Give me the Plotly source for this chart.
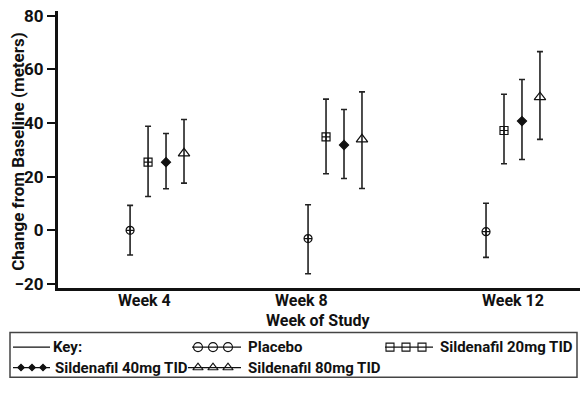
import plotly.graph_objects as go

W, H = 584, 393
FONT = "Roboto, Liberation Sans, Arial, sans-serif"

# ---- data ----
weeks = ["Week 4", "Week 8", "Week 12"]
series_names = ["Placebo", "Sildenafil 20mg TID", "Sildenafil 40mg TID", "Sildenafil 80mg TID"]
placebo_mean = [0.0, -3.1, -0.5]
placebo_upper = [9.3, 9.5, 10.1]
placebo_lower = [-9.2, -16.2, -10.1]
s20_mean = [25.4, 34.8, 37.2]
s20_upper = [38.8, 48.9, 50.7]
s20_lower = [12.6, 21.1, 24.8]
s40_mean = [25.4, 31.8, 40.7]
s40_upper = [36.1, 45.0, 56.2]
s40_lower = [15.5, 19.3, 26.4]
s80_mean = [28.7, 33.9, 49.6]
s80_upper = [41.3, 51.6, 66.6]
s80_lower = [17.6, 15.6, 33.9]
y_ticks = [-20, 0, 20, 40, 60, 80]

# ---- layout helpers ----
def px(x):
    return x / W

def py(y):
    return (H - y) / H

group_pos = [0, 1, 2]
offsets = [-0.101, 0.0, 0.101, 0.202]
tick_pos = [-0.02, 0.86, 2.05]

means = [placebo_mean, s20_mean, s40_mean, s80_mean]
uppers = [placebo_upper, s20_upper, s40_upper, s80_upper]
lowers = [placebo_lower, s20_lower, s40_lower, s80_lower]
symbols = ["circle-cross-open", "square-cross-open", "diamond", "triangle-up-open"]
sizes = [8, 8, 7, 10]

fig = go.Figure()
for i in range(4):
    xs = [g + offsets[i] for g in group_pos]
    m = means[i]
    fig.add_trace(go.Scatter(
        x=xs, y=m, mode="markers", name=series_names[i], showlegend=False,
        marker=dict(symbol=symbols[i], size=sizes[i], color="#111",
                    line=dict(width=1.2, color="#111")),
        error_y=dict(type="data", symmetric=False,
                     array=[u - v for u, v in zip(uppers[i], m)],
                     arrayminus=[v - l for v, l in zip(m, lowers[i])],
                     color="#222", thickness=1.6, width=3),
        xaxis="x", yaxis="y",
    ))

# ---- manual key (legend) ----
leg_x0, leg_x1, leg_y0, leg_y1 = 10, 577, 337, 383
row1, row2 = 352, 373
leg_lines = [
    ([13, 50], row1, None, None),
    ([192, 241], row1, [198, 213, 228], "circle-open"),
    ([385, 433], row1, [390, 406, 422], "square-open"),
    ([13, 50], row2, [21, 32, 43], "diamond"),
    ([188, 241], row2, [198, 213, 228], "triangle-up-open"),
]
leg_sizes = {"circle-open": 9, "square-open": 8, "diamond": 5, "triangle-up-open": 9}
for xs, yy, mx, sym in leg_lines:
    fig.add_trace(go.Scatter(x=xs, y=[yy, yy], mode="lines", showlegend=False,
                             line=dict(color="#111", width=1.2), xaxis="x2", yaxis="y2",
                             hoverinfo="skip"))
    if mx:
        fig.add_trace(go.Scatter(x=mx, y=[yy] * len(mx), mode="markers", showlegend=False,
                                 marker=dict(symbol=sym, size=leg_sizes[sym], color="#111",
                                             line=dict(width=1.1, color="#111")),
                                 xaxis="x2", yaxis="y2", hoverinfo="skip"))

leg_texts = [("Key:", 51, row1), (series_names[0], 246, row1), (series_names[1], 438, row1),
             (series_names[2], 53, row2), (series_names[3], 246, row2)]
annotations = []
for t, x, y in leg_texts:
    annotations.append(dict(text=t, x=x, y=y, xref="x2", yref="y2", xanchor="left",
                            yanchor="middle", showarrow=False,
                            font=dict(family=FONT, size=15, color="#111", weight="bold")))

# week category labels under the x axis
for t, x in zip(weeks, tick_pos):
    annotations.append(dict(text=t, x=x, y=py(303.5), xref="x", yref="paper",
                            xanchor="center", yanchor="middle", showarrow=False,
                            font=dict(family=FONT, size=16, color="#111", weight="bold")))

annotations.append(dict(text="Change from Baseline (meters)", textangle=-90,
                        x=px(18), y=py(151), xref="paper", yref="paper",
                        xanchor="center", yanchor="middle", showarrow=False,
                        font=dict(family=FONT, size=17, color="#111", weight="bold")))
annotations.append(dict(text="Week of Study", x=px(318), y=py(325), xref="paper", yref="paper",
                        xanchor="center", yanchor="middle", showarrow=False,
                        font=dict(family=FONT, size=16, color="#111", weight="bold")))

fig.update_layout(
    width=W, height=H,
    margin=dict(l=0, r=0, t=0, b=0),
    paper_bgcolor="white", plot_bgcolor="white",
    showlegend=False,
    xaxis=dict(domain=[px(58), px(580)], range=[-0.506, 2.427],
               showgrid=False, zeroline=False, showline=True, linewidth=3, linecolor="#111",
               showticklabels=False, ticks=""),
    yaxis=dict(domain=[py(291), py(6)], range=[-21.45, 81.8],
               showgrid=False, zeroline=False, showline=True, linewidth=3, linecolor="#111",
               tickvals=y_ticks, ticks="outside", ticklen=8, tickwidth=2, tickcolor="#111",
               tickfont=dict(family=FONT, size=17, color="#111", weight="bold")),
    xaxis2=dict(domain=[px(leg_x0), px(leg_x1)], range=[leg_x0, leg_x1], visible=False,
                anchor="y2"),
    yaxis2=dict(domain=[py(leg_y1), py(leg_y0)], range=[leg_y1, leg_y0], visible=False,
                anchor="x2"),
    annotations=annotations,
    shapes=[dict(type="rect", xref="paper", yref="paper",
                 x0=px(leg_x0), x1=px(leg_x1), y0=py(leg_y1), y1=py(leg_y0),
                 line=dict(color="#444", width=1.5))],
)

fig.write_html("out.html", config={"displayModeBar": False},
               post_script="document.body.style.margin='0px';")
